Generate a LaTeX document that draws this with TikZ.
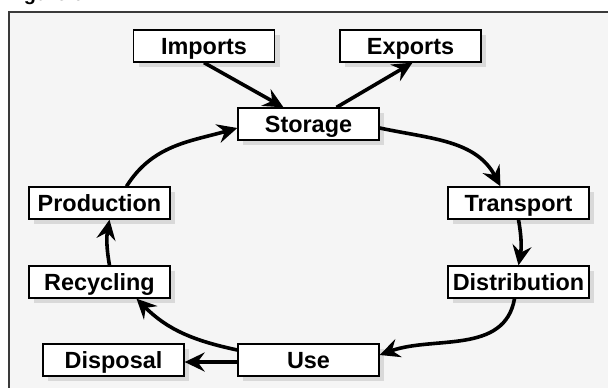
\documentclass[tikz,border=0pt]{standalone}
\usepackage{fontspec}
\setmainfont{Liberation Sans}
\usetikzlibrary{arrows.meta,shadows}
\definecolor{bggray}{HTML}{F5F5F5}
\definecolor{framegray}{HTML}{3A3A3A}
\definecolor{shadowgray}{HTML}{D9D9D9}
\tikzset{
  box/.style={draw=black, line width=1.3bp, fill=white, minimum width=141bp, minimum height=32bp,
    inner sep=0pt, text height=17bp, text depth=0pt,
    font=\fontsize{23.5}{28}\selectfont\bfseries,
    general shadow={shadow xshift=5bp, shadow yshift=-5bp, fill=shadowgray}},
  flow/.style={line width=3.6bp, -{Stealth[length=20bp, width=19bp, inset=7bp]}, black},
}
\begin{document}
\begin{tikzpicture}[x=1bp, y=1bp]
\useasboundingbox (0,0) rectangle (608,-387);
\fill[bggray] (9,-12) rectangle (620,-400);
\draw[framegray, line width=1.5bp] (9,-400) -- (9,-12) -- (620,-12);
\node[anchor=base west, inner sep=0pt, font=\fontsize{20}{24}\selectfont\bfseries] (title) at (6,-0.5) {Figure 6.1};

\node[box] (imports) at (204,-46) {Imports};
\node[box] (exports) at (410.5,-46) {Exports};
\node[box] (storage) at (308.5,-124) {Storage};
\node[box] (transport) at (518.5,-203) {Transport};
\node[box] (distribution) at (518.5,-282) {Distribution};
\node[box] (production) at (99.5,-203) {Production};
\node[box] (recycling) at (99.5,-282) {Recycling};
\node[box] (disposal) at (113.5,-360) {Disposal};
\node[box] (use) at (308.5,-360) {Use};

\draw[flow] (imports.south) -- ([xshift=-25bp]storage.north);
\draw[flow] ([xshift=28bp]storage.north) -- ([xshift=2bp]exports.south);
\draw[flow] ([yshift=-4bp]storage.east) to[out=-12, in=118] ([xshift=-18bp]transport.north);
\draw[flow] (transport.south) to[out=-80, in=80] (distribution.north);
\draw[flow] ([xshift=-4bp]distribution.south) to[out=-100, in=20] ([yshift=5bp]use.east);
\draw[flow] ([yshift=-2bp]use.west) -- ([yshift=-2bp]disposal.east);
\draw[flow] ([yshift=10bp]use.west) to[out=168, in=-45] ([xshift=37bp]recycling.south);
\draw[flow] ([xshift=10bp]recycling.north) to[out=100, in=-100] ([xshift=10bp]production.south);
\draw[flow] ([xshift=27bp]production.north) to[out=58, in=-164] ([yshift=-4bp]storage.west);
\end{tikzpicture}
\end{document}
